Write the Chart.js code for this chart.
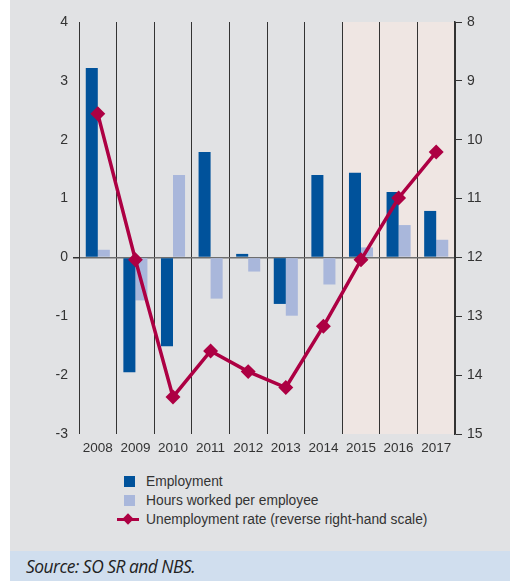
<!DOCTYPE html>
<html>
<head>
<meta charset="utf-8">
<script src="https://cdn.jsdelivr.net/npm/chart.js@4/dist/chart.umd.min.js"></script>
<style>
  body { margin: 0; background: #fff; width: 510px; height: 581px; position: relative; overflow: hidden; }
  #panel { position: absolute; left: 10px; top: 0; width: 500px; height: 551px; background: #e1e2e4; }
  #chartBox { position: absolute; left: 0; top: 0; width: 500px; height: 460px; }
  #legend { position: absolute; left: 107px; top: 472px; font: 13.8px "Liberation Sans", Arial, sans-serif; color: #333; }
  .row { position: relative; height: 19px; line-height: 19px; padding-left: 29px; white-space: nowrap; }
  .box { position: absolute; left: 7px; top: 4px; width: 11px; height: 11px; }
  .ln { position: absolute; left: 0; top: 8px; width: 22px; height: 3px; background: #ad0043; }
  .dm { position: absolute; left: 7px; top: 5px; width: 8px; height: 8px; background: #ad0043; transform: rotate(45deg); }
  #source { position: absolute; left: 10px; top: 551px; width: 500px; height: 30px; background: #d0deee; }
  #source span { position: absolute; left: 16px; top: 3px; font: italic 17.4px "Open Sans", "Noto Sans", sans-serif; color: #222; letter-spacing: -0.5px; }
</style>
</head>
<body>
<div id="panel">
  <div id="chartBox"><canvas id="myChart" width="500" height="460"></canvas></div>
  <div id="legend">
    <div class="row"><span class="box" style="background:#00529b"></span>Employment</div>
    <div class="row"><span class="box" style="background:#a9b7db"></span>Hours worked per employee</div>
    <div class="row"><span class="ln"></span><span class="dm"></span>Unemployment rate (reverse right-hand scale)</div>
  </div>
</div>
<div id="source"><span>Source: SO SR and NBS.</span></div>
<script>
// yearly changes (%) and unemployment rate (%)
var years = ['2008', '2009', '2010', '2011', '2012', '2013', '2014', '2015', '2016', '2017']
var employment = [3.22, -1.95, -1.51, 1.79, 0.06, -0.79, 1.40, 1.44, 1.11, 0.79]
var hoursPerEmployee = [0.13, -0.73, 1.40, -0.70, -0.24, -0.99, -0.46, 0.17, 0.55, 0.30]
var unemploymentRate = [9.56, 12.04, 14.37, 13.59, 13.94, 14.21, 13.17, 12.04, 10.99, 10.21]
var forecastFrom = 7 // 2015 onwards is projection

var axisFont = { family: 'Liberation Sans', size: 13.5 }

// shade the projection years behind everything
var forecastShade = {
  id: 'forecastShade',
  beforeDraw(chart) {
    var x = chart.scales.x
    var area = chart.chartArea
    var step = x.getPixelForValue(1) - x.getPixelForValue(0)
    var left = x.getPixelForValue(forecastFrom) - step / 2
    var ctx = chart.ctx
    ctx.save()
    ctx.fillStyle = '#efe6e3'
    ctx.fillRect(left, area.top, area.right - left, area.bottom - area.top)
    ctx.restore()
  }
}

var ctx = document.getElementById('myChart').getContext('2d')
var chart = new Chart(ctx, {
  type: 'bar',
  data: {
    labels: years,
    datasets: [
      {
        label: 'Employment',
        data: employment,
        backgroundColor: '#00529b',
        yAxisID: 'y',
        order: 1
      },
      {
        label: 'Hours worked per employee',
        data: hoursPerEmployee,
        backgroundColor: '#a9b7db',
        yAxisID: 'y',
        order: 1
      },
      {
        type: 'line',
        label: 'Unemployment rate (reverse right-hand scale)',
        data: unemploymentRate,
        borderColor: '#ad0043',
        backgroundColor: '#ad0043',
        borderWidth: 3.5,
        pointStyle: 'rectRot',
        pointRadius: 5,
        pointHoverRadius: 5,
        tension: 0,
        yAxisID: 'y2',
        order: 0
      }
    ]
  },
  options: {
    responsive: false,
    animation: false,
    categoryPercentage: 0.64,
    barPercentage: 1.0,
    layout: { padding: { top: 22, left: 0, right: 0, bottom: 0 } },
    plugins: {
      legend: { display: false },
      tooltip: { enabled: false }
    },
    scales: {
      x: {
        offset: true,
        grid: { offset: true, color: '#333', lineWidth: 1, drawTicks: false },
        border: { display: false },
        ticks: { color: '#333', font: axisFont, padding: 6, maxRotation: 0 },
        afterFit(scale) { scale.height = 26 }
      },
      y: {
        position: 'left',
        min: -3,
        max: 4,
        ticks: { stepSize: 1, color: '#333', font: { family: 'Liberation Sans', size: 14 }, padding: 5 },
        grid: {
          color: c => (c.tick && c.tick.value === 0 ? '#6e6e6e' : 'transparent'),
          lineWidth: c => (c.tick && c.tick.value === 0 ? 1.5 : 0),
          tickColor: '#333',
          tickLength: 6
        },
        border: { display: true, color: '#333', width: 1 },
        afterFit(scale) { scale.width = 69 }
      },
      y2: {
        position: 'right',
        reverse: true,
        min: 8,
        max: 15,
        ticks: { stepSize: 1, color: '#333', font: { family: 'Liberation Sans', size: 14 }, padding: 5 },
        grid: { drawOnChartArea: false, tickColor: '#333', tickLength: 7 },
        border: { display: true, color: '#333', width: 1.5 },
        afterFit(scale) { scale.width = 55 }
      }
    }
  },
  plugins: [forecastShade]
})
</script>
</body>
</html>
